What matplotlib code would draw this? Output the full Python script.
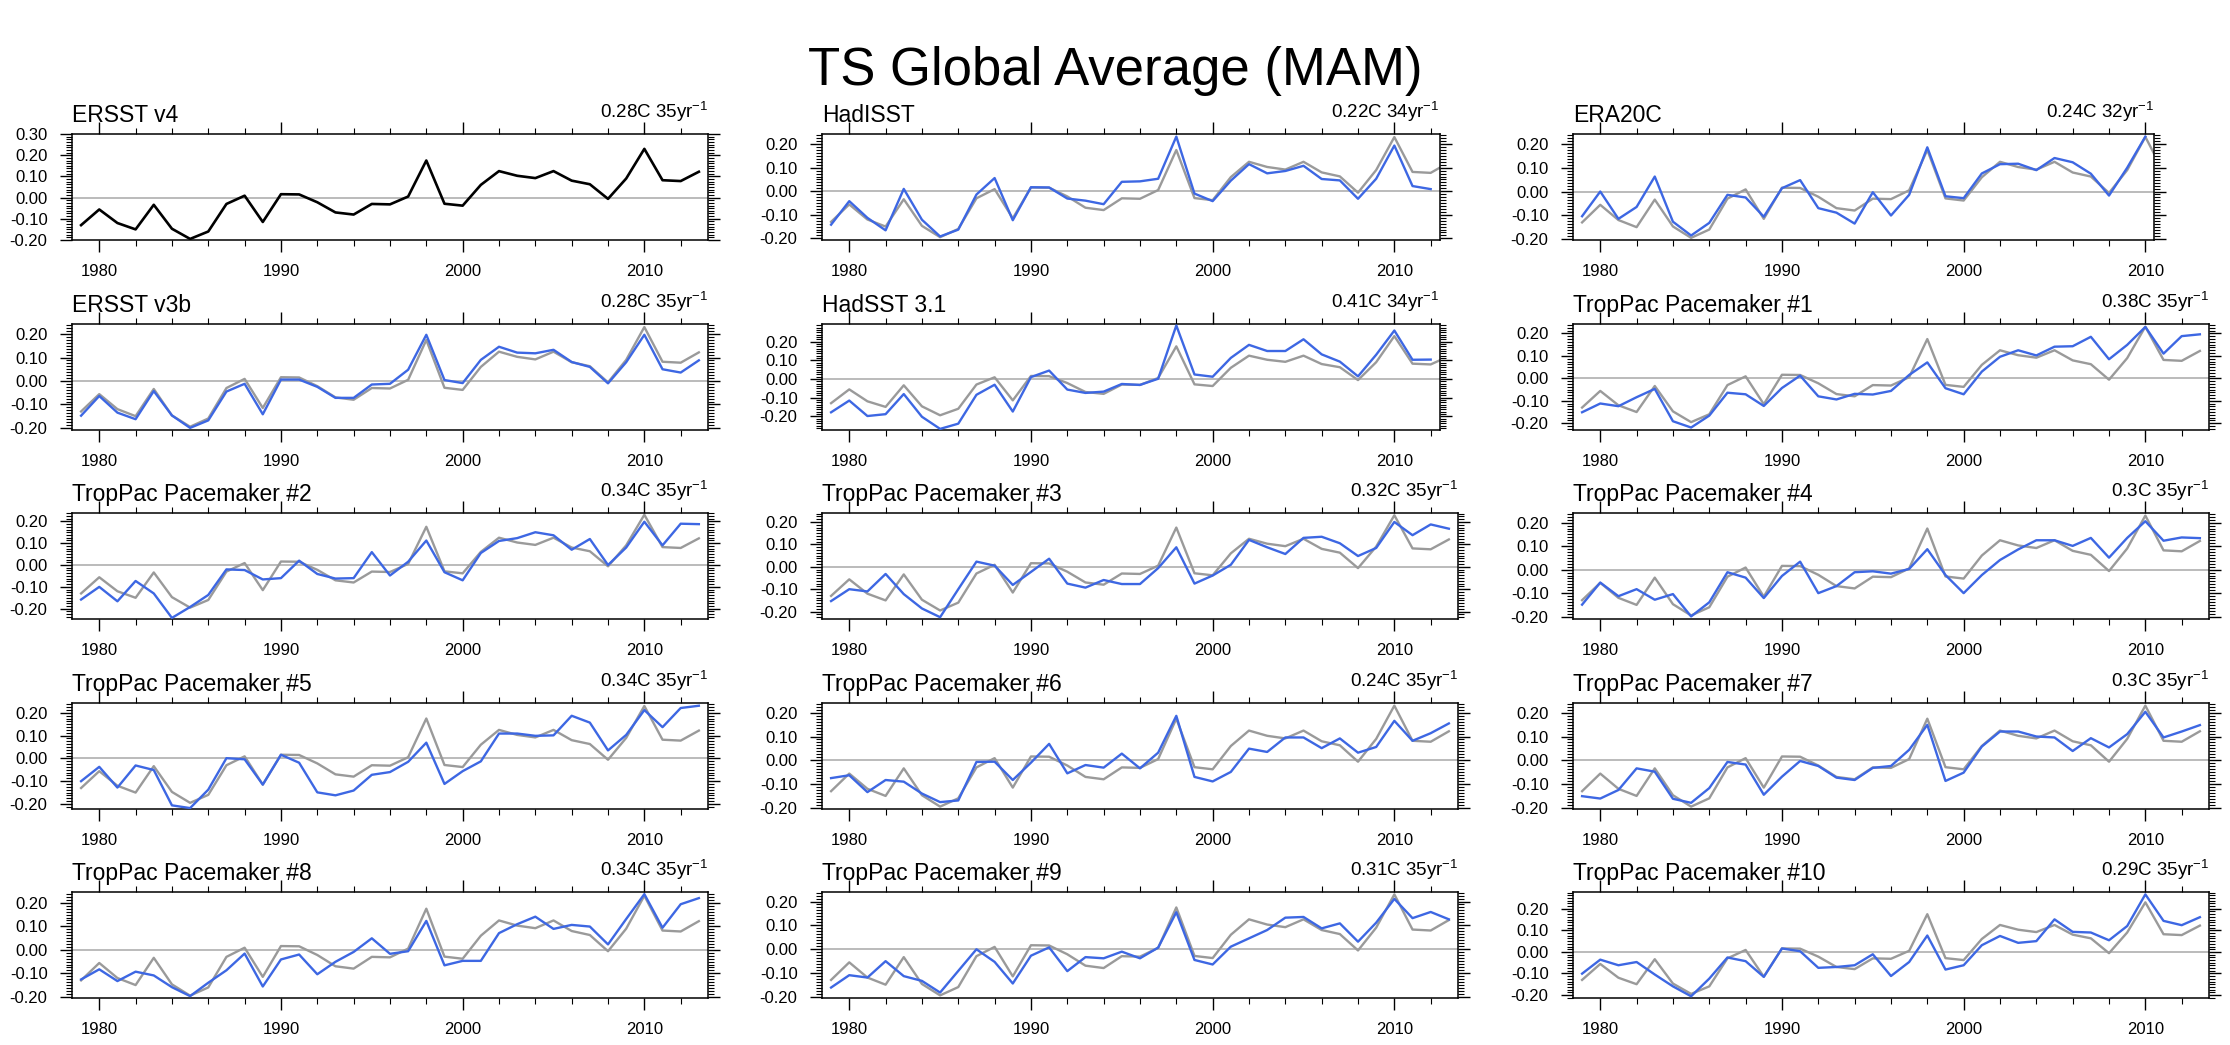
import matplotlib
matplotlib.use('Agg')
import matplotlib.pyplot as plt
import numpy as np
from matplotlib.ticker import MultipleLocator, FuncFormatter

plt.rcParams['font.family'] = ['Liberation Sans', 'DejaVu Sans']
plt.rcParams['mathtext.fontset'] = 'custom'
plt.rcParams['mathtext.rm'] = 'Liberation Sans'
plt.rcParams['mathtext.it'] = 'Liberation Sans:italic'
plt.rcParams['mathtext.bf'] = 'Liberation Sans:bold'

# ---------------- data ----------------
start_year = 1979

names = ["ERSST v4", "HadISST", "ERA20C",
         "ERSST v3b", "HadSST 3.1", "TropPac Pacemaker #1",
         "TropPac Pacemaker #2", "TropPac Pacemaker #3", "TropPac Pacemaker #4",
         "TropPac Pacemaker #5", "TropPac Pacemaker #6", "TropPac Pacemaker #7",
         "TropPac Pacemaker #8", "TropPac Pacemaker #9", "TropPac Pacemaker #10"]

trends = ["0.28", "0.22", "0.24",
          "0.28", "0.41", "0.38",
          "0.34", "0.32", "0.3",
          "0.34", "0.24", "0.3",
          "0.34", "0.31", "0.29"]

ersst_v4 = [-0.13, -0.056, -0.12, -0.15, -0.034, -0.147, -0.195, -0.16, -0.03, 0.009,
            -0.115, 0.016, 0.015, -0.022, -0.07, -0.08, -0.03, -0.032, 0.005, 0.175,
            -0.029, -0.038, 0.06, 0.125, 0.103, 0.092, 0.125, 0.08, 0.063, -0.006,
            0.09, 0.23, 0.082, 0.078, 0.122]

hadisst = [-0.142, -0.042, -0.113, -0.166, 0.01, -0.121, -0.192, -0.163, -0.014, 0.056,
           -0.123, 0.017, 0.016, -0.031, -0.04, -0.055, 0.04, 0.042, 0.053, 0.232,
           -0.01, -0.042, 0.045, 0.115, 0.076, 0.086, 0.108, 0.052, 0.046, -0.032,
           0.053, 0.194, 0.022, 0.009]

era20c = [-0.104, 0.0, -0.115, -0.065, 0.063, -0.127, -0.185, -0.132, -0.014, -0.025,
          -0.106, 0.014, 0.048, -0.07, -0.089, -0.135, -0.003, -0.101, -0.014, 0.186,
          -0.02, -0.028, 0.076, 0.115, 0.117, 0.09, 0.141, 0.123, 0.075, -0.017,
          0.1, 0.231]

ersst_v3b = [-0.148, -0.064, -0.135, -0.163, -0.043, -0.147, -0.2, -0.168, -0.045, -0.012,
             -0.142, 0.006, 0.006, -0.025, -0.072, -0.072, -0.015, -0.012, 0.048, 0.197,
             0.004, -0.009, 0.09, 0.146, 0.121, 0.118, 0.133, 0.081, 0.06, -0.01,
             0.08, 0.197, 0.05, 0.036, 0.088]

hadsst31 = [-0.179, -0.116, -0.199, -0.189, -0.081, -0.203, -0.268, -0.24, -0.085, -0.031,
            -0.175, 0.01, 0.045, -0.057, -0.075, -0.068, -0.027, -0.032, 0.001, 0.287,
            0.024, 0.012, 0.113, 0.183, 0.15, 0.15, 0.213, 0.132, 0.093, 0.014,
            0.13, 0.26, 0.103, 0.104]

tp1 = [-0.151, -0.112, -0.124, -0.084, -0.047, -0.191, -0.219, -0.166, -0.064, -0.071,
       -0.123, -0.043, 0.012, -0.08, -0.094, -0.069, -0.072, -0.056, 0.015, 0.071,
       -0.044, -0.071, 0.03, 0.096, 0.125, 0.102, 0.141, 0.143, 0.185, 0.085,
       0.149, 0.229, 0.11, 0.188, 0.196]

tp2 = [-0.158, -0.1, -0.166, -0.073, -0.13, -0.242, -0.192, -0.137, -0.02, -0.023,
       -0.066, -0.06, 0.02, -0.041, -0.062, -0.06, 0.059, -0.048, 0.015, 0.112,
       -0.033, -0.07, 0.055, 0.11, 0.123, 0.15, 0.136, 0.07, 0.119, 0.0,
       0.08, 0.198, 0.09, 0.189, 0.187]

tp3 = [-0.153, -0.1, -0.11, -0.032, -0.122, -0.186, -0.225, -0.1, 0.023, 0.005,
       -0.081, -0.023, 0.036, -0.075, -0.093, -0.059, -0.077, -0.077, -0.006, 0.087,
       -0.075, -0.039, 0.009, 0.12, 0.087, 0.057, 0.129, 0.134, 0.105, 0.048,
       0.084, 0.2, 0.141, 0.189, 0.17]

tp4 = [-0.149, -0.055, -0.113, -0.083, -0.128, -0.104, -0.199, -0.139, -0.011, -0.034,
       -0.121, -0.027, 0.034, -0.1, -0.07, -0.011, -0.007, -0.017, 0.003, 0.087,
       -0.023, -0.1, -0.023, 0.041, 0.086, 0.125, 0.125, 0.101, 0.135, 0.051,
       0.135, 0.206, 0.123, 0.137, 0.134]

tp5 = [-0.1, -0.037, -0.128, -0.031, -0.051, -0.206, -0.218, -0.137, 0.001, -0.004,
       -0.115, 0.016, -0.019, -0.149, -0.162, -0.141, -0.072, -0.06, -0.015, 0.069,
       -0.112, -0.056, -0.013, 0.109, 0.109, 0.099, 0.101, 0.187, 0.157, 0.035,
       0.103, 0.212, 0.137, 0.221, 0.231]

tp6 = [-0.075, -0.063, -0.134, -0.083, -0.09, -0.14, -0.176, -0.169, -0.007, -0.006,
       -0.083, -0.01, 0.069, -0.055, -0.02, -0.031, 0.028, -0.034, 0.032, 0.187,
       -0.07, -0.089, -0.049, 0.049, 0.035, 0.096, 0.096, 0.051, 0.092, 0.032,
       0.056, 0.166, 0.082, 0.114, 0.155]

tp7 = [-0.151, -0.161, -0.125, -0.034, -0.048, -0.162, -0.179, -0.117, -0.007, -0.018,
       -0.145, -0.069, -0.003, -0.024, -0.073, -0.083, -0.032, -0.024, 0.044, 0.149,
       -0.087, -0.052, 0.058, 0.121, 0.121, 0.1, 0.096, 0.039, 0.093, 0.054,
       0.11, 0.204, 0.096, 0.121, 0.148]

tp8 = [-0.126, -0.083, -0.133, -0.093, -0.109, -0.159, -0.197, -0.14, -0.087, -0.016,
       -0.156, -0.041, -0.02, -0.104, -0.051, -0.009, 0.049, -0.017, -0.006, 0.123,
       -0.066, -0.047, -0.047, 0.071, 0.109, 0.141, 0.089, 0.106, 0.099, 0.023,
       0.131, 0.237, 0.094, 0.194, 0.22]

tp9 = [-0.162, -0.11, -0.12, -0.051, -0.114, -0.134, -0.183, -0.092, -0.001, -0.054,
       -0.145, -0.028, 0.007, -0.093, -0.034, -0.039, -0.011, -0.039, 0.006, 0.155,
       -0.046, -0.065, 0.01, 0.045, 0.08, 0.132, 0.135, 0.087, 0.108, 0.031,
       0.111, 0.211, 0.13, 0.156, 0.125]

tp10 = [-0.101, -0.036, -0.062, -0.047, -0.105, -0.16, -0.206, -0.124, -0.026, -0.043,
        -0.116, 0.016, 0.003, -0.074, -0.07, -0.062, -0.011, -0.112, -0.047, 0.076,
        -0.082, -0.062, 0.031, 0.074, 0.042, 0.05, 0.151, 0.093, 0.09, 0.054,
        0.12, 0.267, 0.144, 0.124, 0.161]

series = [ersst_v4, hadisst, era20c, ersst_v3b, hadsst31, tp1, tp2, tp3, tp4,
          tp5, tp6, tp7, tp8, tp9, tp10]

ylims = [(-0.2001, 0.3001), (-0.207, 0.243), (-0.204, 0.242),
         (-0.209, 0.243), (-0.274, 0.295), (-0.23, 0.242),
         (-0.247, 0.238), (-0.233, 0.240), (-0.21, 0.241),
         (-0.222, 0.243), (-0.205, 0.241), (-0.205, 0.241),
         (-0.205, 0.246), (-0.206, 0.240), (-0.214, 0.278)]

# ---------------- layout (pixels) ----------------
W, H = 2230, 1045
col_left = [72, 822, 1573]
row_top = [134, 324, 513, 703, 892]
box_h = 106
px_per_year = 18.17

BLUE = '#3d67e3'
GRAY = '#9a9a9a'

fig = plt.figure(figsize=(W / 100, H / 100), dpi=100)

ref_years = np.arange(start_year, start_year + len(ersst_v4))


def yfmt(v, p):
    if abs(v) < 1e-9:
        return '0.00'
    return '%.2f' % v


for i, (name, vals, trend, ylim) in enumerate(zip(names, series, trends, ylims)):
    r, c = divmod(i, 3)
    n = len(vals)
    yrs = np.arange(start_year, start_year + n)
    width = n * px_per_year
    ax = fig.add_axes([col_left[c] / W, 1 - (row_top[r] + box_h) / H,
                       width / W, box_h / H])
    ax.axhline(0, color='#a8a8a8', lw=1.1, zorder=1)
    if i == 0:
        ax.plot(yrs, vals, color='black', lw=1.9, zorder=3)
    else:
        ax.plot(ref_years, ersst_v4, color=GRAY, lw=1.7, zorder=2)
        ax.plot(yrs, vals, color=BLUE, lw=1.7, zorder=3)
    ax.set_xlim(start_year - 0.5, start_year + n - 0.5)
    ax.set_ylim(*ylim)
    ax.xaxis.set_major_locator(MultipleLocator(10))
    ax.xaxis.set_minor_locator(MultipleLocator(2))
    ax.yaxis.set_major_locator(MultipleLocator(0.1))
    ax.yaxis.set_minor_locator(MultipleLocator(0.0125))
    ax.yaxis.set_major_formatter(FuncFormatter(yfmt))
    ax.tick_params(which='both', direction='out', top=True, right=True,
                   width=1.0, colors='black')
    ax.tick_params(which='major', length=8.6, labelsize=12, pad=9)
    ax.tick_params(which='minor', length=4.3, width=0.8)
    for s in ax.spines.values():
        s.set_linewidth(1.1)
    ax.text(0, 1 + 12 / box_h, name, transform=ax.transAxes, ha='left',
            va='baseline', fontsize=16.5)
    ax.text(1, 1 + 16 / box_h, trend + 'C ' + str(n) + r'yr$^{-1}$',
            transform=ax.transAxes, ha='right', va='baseline', fontsize=13.5)

fig.text(0.5, 1 - 85 / H, 'TS Global Average (MAM)', ha='center',
         va='baseline', fontsize=38)

fig.savefig('out.png', dpi=100)
